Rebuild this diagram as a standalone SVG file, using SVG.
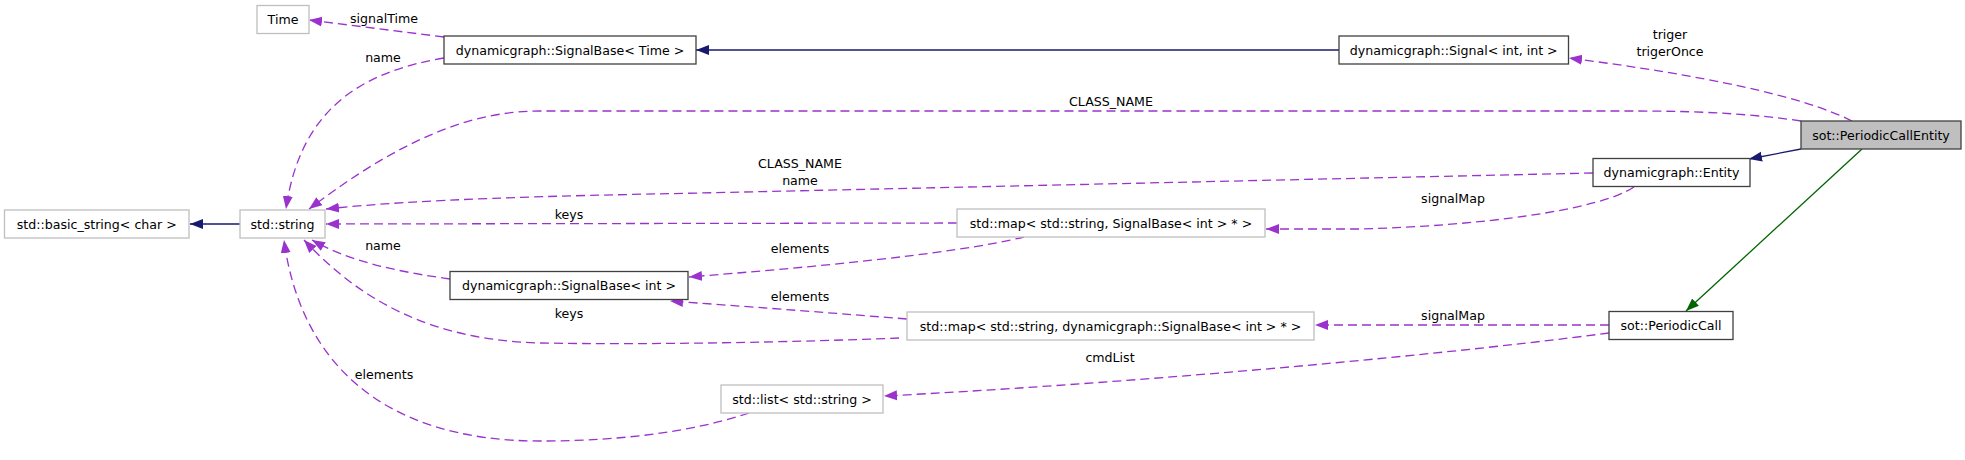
<svg xmlns="http://www.w3.org/2000/svg" width="1965" height="460" viewBox="0 0 1965 460">
<defs>
<style>
text{font-family:"DejaVu Sans","Liberation Sans",sans-serif;font-size:12.6px;fill:#000;text-anchor:middle}
.n rect{fill:#fff;stroke:#404040;stroke-width:1.3}
.u rect{fill:#fff;stroke:#bfbfbf;stroke-width:1.3}
.cur rect{fill:#bfbfbf;stroke:#404040;stroke-width:1.3}
.d{fill:none;stroke:#9a32cd;stroke-width:1.3;stroke-dasharray:9,5;marker-end:url(#ap)}
.g{fill:none;stroke:#191970;stroke-width:1.3;marker-end:url(#ab)}
.p{fill:none;stroke:#006400;stroke-width:1.3;marker-end:url(#ag)}
</style>
<marker id="ap" markerUnits="userSpaceOnUse" markerWidth="14" markerHeight="12" viewBox="0 0 14 12" refX="13" refY="6" orient="auto"><path d="M0,1 L13,6 L0,11 z" fill="#9a32cd"/></marker>
<marker id="ab" markerUnits="userSpaceOnUse" markerWidth="14" markerHeight="12" viewBox="0 0 14 12" refX="13" refY="6" orient="auto"><path d="M0,1 L13,6 L0,11 z" fill="#191970"/></marker>
<marker id="ag" markerUnits="userSpaceOnUse" markerWidth="14" markerHeight="12" viewBox="0 0 14 12" refX="13" refY="6" orient="auto"><path d="M0,1 L13,6 L0,11 z" fill="#006400"/></marker>
</defs>
<rect width="1965" height="460" fill="#fff"/>
<g id="connectors">
<path class="g" d="M1339,50 L696,50"/>
<path class="g" d="M240,224 L190,224"/>
<path class="d" d="M444,37 L309,20"/>
<path class="d" d="M444,58 C360,72 300,110 286,209"/>
<path class="d" d="M1801,121 C1740,112 1680,111 1630,111 L540,111 C470,111 400,140 309,209"/>
<path class="d" d="M1593,173 L700,193 C550,196 420,199 326,209"/>
<path class="d" d="M957,223 L326,224"/>
<path class="d" d="M1634,187 C1600,210 1480,226 1360,229 L1266,229"/>
<path class="d" d="M1024,237 C950,255 800,268 689,277"/>
<path class="d" d="M907,319 C820,312 740,306 670,301"/>
<path class="d" d="M899,338 C800,342 650,345 540,343 C430,340 360,300 304,240"/>
<path class="d" d="M450,279 C400,272 350,262 312,240"/>
<path class="d" d="M749,413 C680,436 600,441 540,441 C380,441 300,360 284,240"/>
<path class="d" d="M1852,121 C1800,95 1700,75 1569,58"/>
<path class="d" d="M1609,325 L1315,325"/>
<path class="d" d="M1609,333 C1400,360 1100,385 884,396"/>
<path class="g" d="M1801,149 L1749,159"/>
<path class="p" d="M1862,149 L1686,311"/>
<text x="384" y="23">signalTime</text>
<text x="383" y="62">name</text>
<text x="1111" y="106">CLASS_NAME</text>
<text x="1670" y="39">triger</text>
<text x="1670" y="56">trigerOnce</text>
<text x="800" y="168">CLASS_NAME</text>
<text x="800" y="185">name</text>
<text x="569" y="219">keys</text>
<text x="1453" y="203">signalMap</text>
<text x="800" y="253">elements</text>
<text x="383" y="250">name</text>
<text x="800" y="301">elements</text>
<text x="569" y="318">keys</text>
<text x="1453" y="320">signalMap</text>
<text x="1110" y="362">cmdList</text>
<text x="384" y="379">elements</text>
</g>
<g id="time" class="u"><rect x="257" y="5.5" width="52" height="28"/><text x="283" y="24">Time</text></g>
<g id="signalbase-time" class="n"><rect x="444" y="36" width="252" height="28"/><text x="570" y="54.5">dynamicgraph::SignalBase&lt; Time &gt;</text></g>
<g id="signal-int-int" class="n"><rect x="1339" y="36" width="229.5" height="28"/><text x="1453.75" y="54.5">dynamicgraph::Signal&lt; int, int &gt;</text></g>
<g id="periodiccallentity" class="cur"><rect x="1801" y="121" width="160" height="28"/><text x="1881" y="139.5">sot::PeriodicCallEntity</text></g>
<g id="entity" class="n"><rect x="1593" y="158.5" width="157" height="28"/><text x="1671.5" y="177">dynamicgraph::Entity</text></g>
<g id="basic-string" class="u"><rect x="4.5" y="210" width="184.5" height="28"/><text x="96.75" y="228.5">std::basic_string&lt; char &gt;</text></g>
<g id="std-string" class="u"><rect x="240" y="210" width="85" height="28"/><text x="282.5" y="228.5">std::string</text></g>
<g id="map-signalbase" class="u"><rect x="957" y="209" width="308" height="28"/><text x="1111" y="227.5">std::map&lt; std::string, SignalBase&lt; int &gt; * &gt;</text></g>
<g id="signalbase-int" class="n"><rect x="450" y="271.5" width="238" height="28"/><text x="569" y="290">dynamicgraph::SignalBase&lt; int &gt;</text></g>
<g id="map-dg-signalbase" class="u"><rect x="907" y="312" width="407" height="28"/><text x="1110.5" y="330.5">std::map&lt; std::string, dynamicgraph::SignalBase&lt; int &gt; * &gt;</text></g>
<g id="periodiccall" class="n"><rect x="1609" y="311.5" width="124" height="28"/><text x="1671" y="330">sot::PeriodicCall</text></g>
<g id="list-string" class="u"><rect x="721" y="385" width="162" height="28"/><text x="802" y="403.5">std::list&lt; std::string &gt;</text></g>
</svg>
